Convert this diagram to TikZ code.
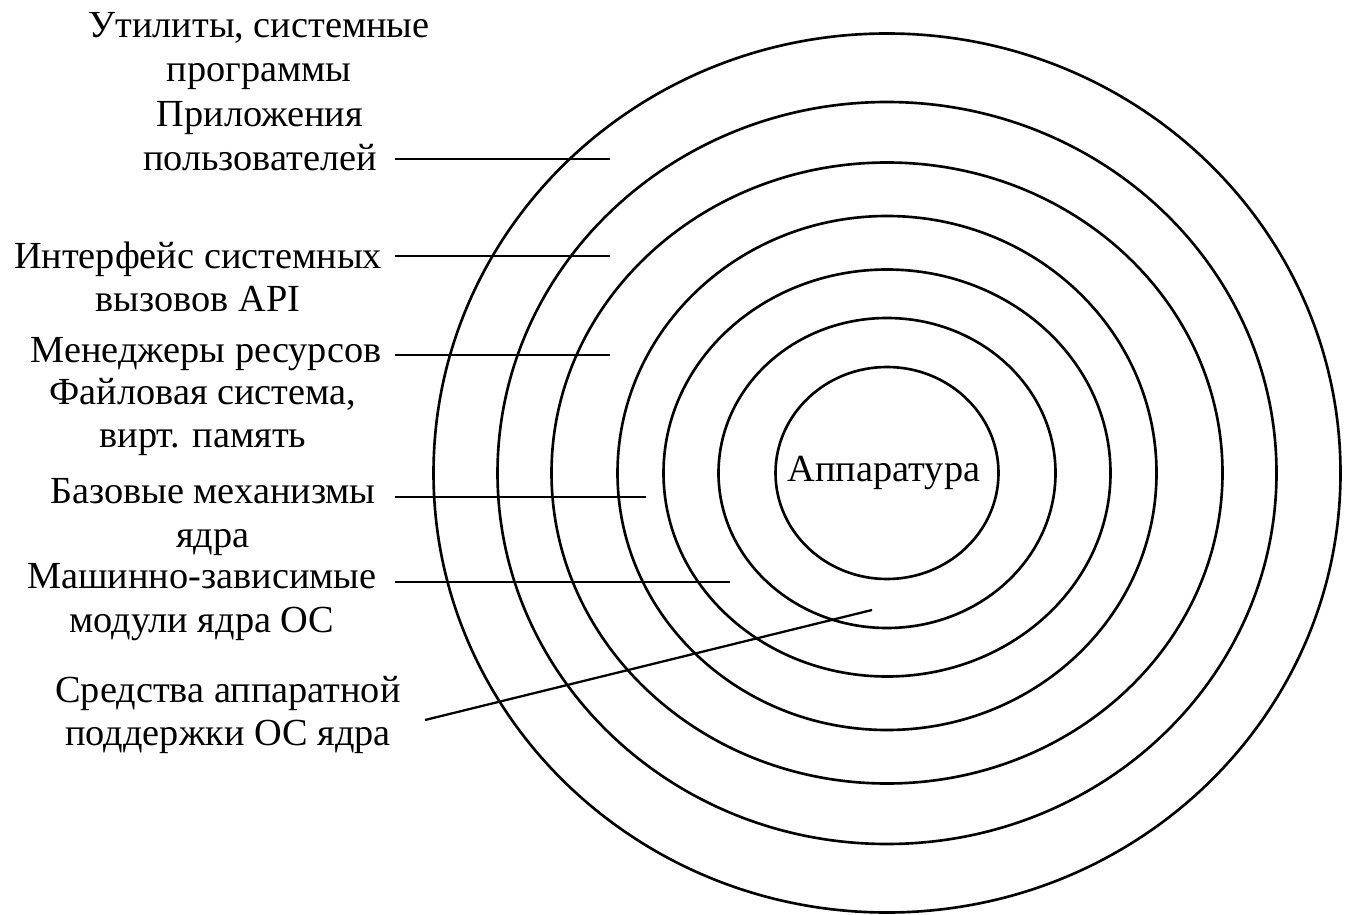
\documentclass[tikz,border=0pt]{standalone}
\usepackage{fontspec}
\setmainfont{Liberation Serif}

\begin{document}
\begin{tikzpicture}[x=0.02cm, y=-0.02cm,
    ring/.style={line width=1.5pt},
    leader/.style={line width=1.3pt},
    lbl/.style={align=center, inner sep=0pt, font=\fontsize{21.8}{24.8}\selectfont}]

  \useasboundingbox (0,0) rectangle (1345,915);

  % concentric layers
  \def\cx{887};
  \def\cy{473};
  \foreach \rx/\ry in {111.5/106, 168.5/155, 223.5/203.5, 269.5/257, 335.5/310.5, 389.5/371, 453.5/439.5} {
     \draw[ring] (\cx,\cy) ellipse [x radius=\rx, y radius=\ry];
  }

  \node[lbl] (hw) at (884,473) {Аппаратура};

  % labels on the left
  \node[lbl] (util) at (259,51) {Утилиты, системные\\программы};
  \node[lbl] (apps) at (260,136) {Приложения\\пользователей};
  \node[lbl] (api) at (198,277) {Интерфейс системных\\вызовов API};
  \node[lbl] (mgr) at (206,354) {Менеджеры ресурсов};
  \node[lbl] (fs) at (203,417) {Файловая система,\\вирт. память};
  \node[lbl] (base) at (213,517) {Базовые механизмы\\ядра};
  \node[lbl] (mach) at (202,602) {Машинно-зависимые\\модули ядра ОС};
  \node[lbl] (hwsup) at (228,715) {Средства аппаратной\\поддержки ОС ядра};

  % leaders
  \foreach \name/\y/\xe in {apps/159/610, api/256/610, mgr/355/610, base/497/646, mach/582/730} {
     \coordinate (\name-a) at (395,\y);
     \coordinate (\name-b) at (\xe,\y);
     \draw[leader] (\name-a) -- (\name-b);
  }
  \coordinate (hwsup-a) at (425,720);
  \coordinate (hwsup-b) at (872,610);
  \draw[leader] (hwsup-a) -- (hwsup-b);

\end{tikzpicture}
\end{document}
